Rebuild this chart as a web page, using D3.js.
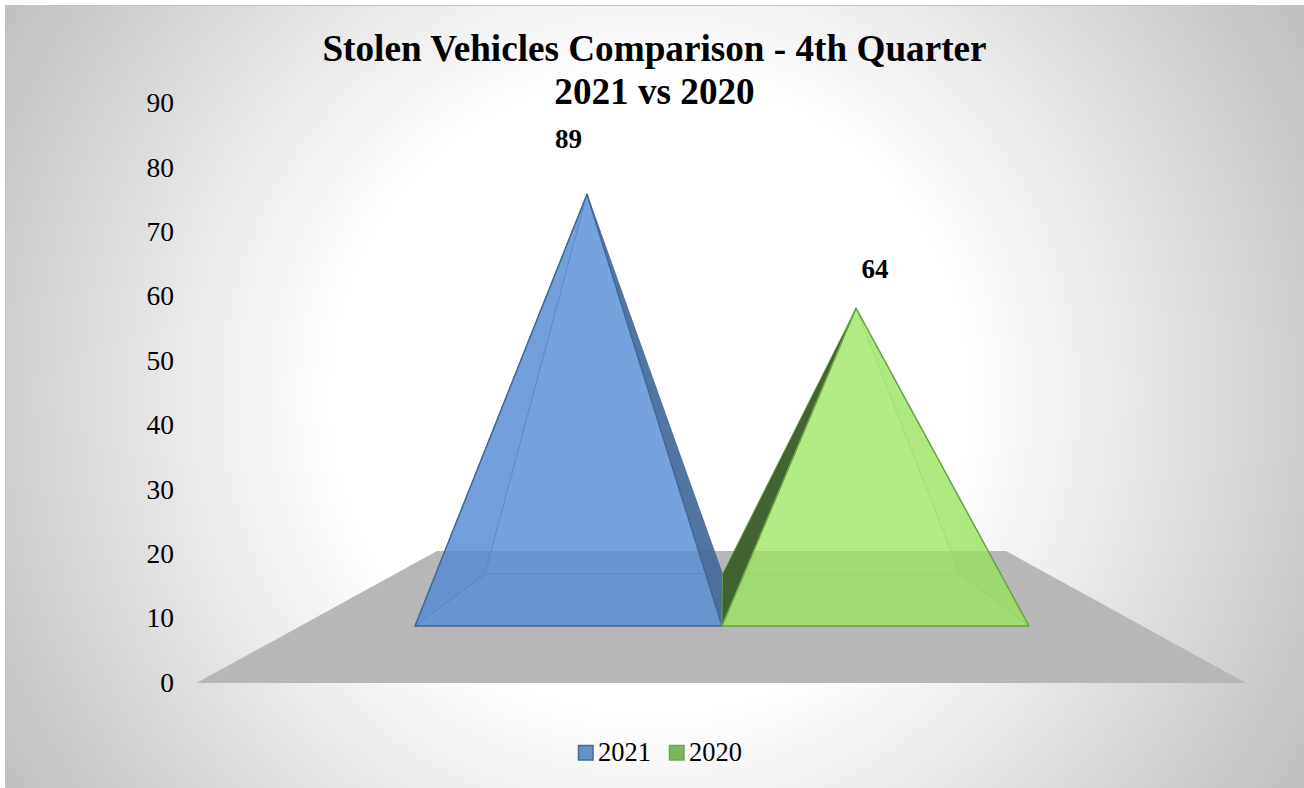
<!DOCTYPE html>
<html><head><meta charset="utf-8">
<script src="https://cdn.jsdelivr.net/npm/d3@7/dist/d3.min.js"></script>
<style>
html,body{margin:0;padding:0;background:#fff}
svg{display:block}
text{font-family:"Liberation Serif",serif;fill:#000}
</style></head><body><div id="chart"></div>
<script>
const W = 1304, H = 788;
const seriesNames = ["2021", "2020"];
const seriesValues = [89, 64];
const axisTicks = [0, 10, 20, 30, 40, 50, 60, 70, 80, 90];
const titleLines = ["Stolen Vehicles Comparison - 4th Quarter", "2021 vs 2020"];
const faceColors = ["#528cd4", "#98e55c"];
const faceOpacity = [0.8, 0.75];
const sideColors = ["#3f6797", "#3d5f2a"];
const edgeColors = ["#41689a", "#6ba246"];
const legendColors = ["#6691c5", "#80b45f"];
const legendEdges = ["#41689a", "#70a84c"];

const svg = d3.select("#chart").append("svg").attr("width", W).attr("height", H);
const defs = svg.append("defs");
const bg = defs.append("radialGradient").attr("id", "bg")
  .attr("gradientUnits", "userSpaceOnUse").attr("cx", 650).attr("cy", 395).attr("r", 760);
[[0, "#ffffff"], [0.42, "#ffffff"], [1, "#bfbfbf"]].forEach(([o, c]) =>
  bg.append("stop").attr("offset", o).attr("stop-color", c));

svg.append("rect").attr("x", 5.5).attr("y", 5.5).attr("width", W - 5).attr("height", H - 5)
  .attr("fill", "url(#bg)").attr("stroke", "#c4c4c4").attr("stroke-width", 1);

// floor plate
const floorFront = d3.scaleLinear().domain([0, 1]).range([196.5, 1246]);
const floorBack = d3.scaleLinear().domain([0, 1]).range([437, 1006]);
svg.append("path").attr("fill", "#b7b7b7").attr("d", d3.line()([
  [floorFront(0), 683], [floorFront(1), 683], [floorBack(1), 551], [floorBack(0), 551]]) + "Z");

// value axis
const yAxisScale = d3.scaleLinear().domain([0, 90]).range([682.5, 103]);
const gy = svg.append("g").attr("transform", "translate(182,0)")
  .call(d3.axisLeft(yAxisScale).tickValues(axisTicks).tickSize(0).tickPadding(8));
gy.select(".domain").remove();
gy.selectAll("text").style("font-family", '"Liberation Serif",serif').style("font-size", "27.5px").attr("fill", "#000");

// pyramid geometry
const xFront = d3.scaleBand().domain(seriesNames).range([415, 1029]);
const xBack = d3.scaleBand().domain(seriesNames).range([485, 960]);
const xApex = d3.scalePoint().domain(seriesNames).range([587, 856]);
const yHeight = d3.scaleLinear().domain([0, 90]).range([600, 189.6]);
const frontY = 626, backY = 574;

const pyramids = seriesNames.map((s, i) => {
  const fl = xFront(s), fr = fl + xFront.bandwidth();
  const bl = xBack(s), br = bl + xBack.bandwidth();
  return { i, s, v: seriesValues[i], fl, fr, bl, br, ax: xApex(s), ay: yHeight(seriesValues[i]) };
});
const poly = d3.line();
const g = svg.append("g");
pyramids.forEach(p => {
  const c = faceColors[p.i], e = edgeColors[p.i];
  const A = [p.ax, p.ay], FL = [p.fl, frontY], FR = [p.fr, frontY], BL = [p.bl, backY], BR = [p.br, backY];
  const face = (pts, fill, op, so) => g.append("path").attr("d", poly(pts) + "Z")
    .attr("fill", fill).attr("fill-opacity", op).attr("stroke", e).attr("stroke-opacity", so)
    .attr("stroke-width", 1).attr("stroke-linejoin", "round");
  face([BL, BR, FR, FL], c, 0, 0.6);           // base: shows the floor through the front face
  if (p.i === 0) {
    face([FR, BR, A], sideColors[0], 0.9, 0.8);
    face([FL, BL, A], "#20508f", 0.1, 0.75);
  } else {
    face([FL, BL, A], sideColors[1], 0.97, 0.8);
    face([FR, BR, A], "#4a8f20", 0.07, 0.5);
  }
  face([FL, FR, A], c, faceOpacity[p.i], 1).attr("stroke-width", 1.5);
});

// data labels
svg.append("g").selectAll("text").data(pyramids).join("text")
  .attr("x", (d, i) => [568.5, 875][i]).attr("y", (d, i) => [148, 278][i])
  .attr("text-anchor", "middle").attr("font-weight", "bold").attr("font-size", 27)
  .text(d => d.v);

// title
svg.append("g").selectAll("text").data(titleLines).join("text")
  .attr("x", 654.5).attr("y", (d, i) => 61 + i * 43)
  .attr("text-anchor", "middle").attr("font-weight", "bold").attr("font-size", 37.2)
  .text(d => d);

// legend
const legendX = d3.scaleOrdinal().domain(seriesNames).range([578, 669]);
const lg = svg.append("g").selectAll("g").data(seriesNames).join("g")
  .attr("transform", s => `translate(${legendX(s)},745)`);
lg.append("rect").attr("x", 0.5).attr("y", 0.5).attr("width", 14.5).attr("height", 14.5)
  .attr("fill", (s, i) => legendColors[i]).attr("stroke", (s, i) => legendEdges[i]).attr("stroke-width", 1.5);
lg.append("text").attr("x", 20).attr("y", 16).attr("font-size", 26.5).text(s => s);
</script></body></html>
